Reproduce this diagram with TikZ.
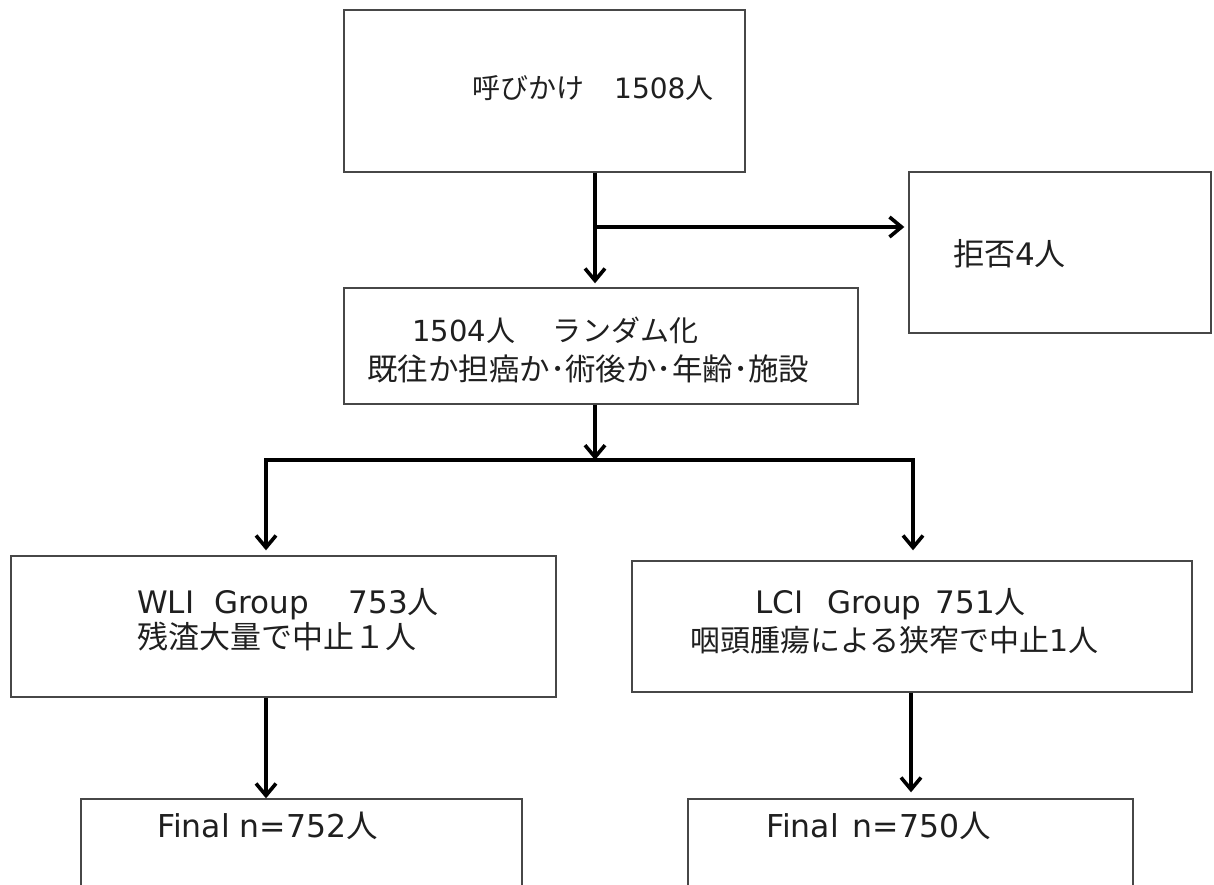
\documentclass[tikz,border=0pt]{standalone}
\usepackage{fontspec}
\setmainfont{Noto Sans CJK JP}
\newfontfamily\lat{DejaVu Sans}
\usetikzlibrary{arrows.meta}
\newcommand\fsz[1]{\fontsize{#1}{#1}\selectfont}
\begin{document}
\begin{tikzpicture}[x=1pt,y=-1pt,
  box/.style={draw=black!72, line width=1.4pt, rectangle, inner sep=0pt},
  txt/.style={anchor=base west, inner sep=0pt, text=black!88},
  link/.style={draw=black, line width=3.6pt},
  arr/.style={link, -{Straight Barb[length=12pt,width=20pt]}},
]
\useasboundingbox (0,0) rectangle (1214,884);
\clip (0,0) rectangle (1214,884);
\fill[white] (0,0) rectangle (1214,884);

% boxes
\node[box, minimum width=401pt, minimum height=162pt] (b1)  at (544.5,91) {};
\node[box, minimum width=302pt, minimum height=161pt] (ref) at (1060,252.5) {};
\node[box, minimum width=514pt, minimum height=116pt] (b2)  at (601,346) {};
\node[box, minimum width=545pt, minimum height=141pt] (wli) at (283.5,626.5) {};
\node[box, minimum width=560pt, minimum height=131pt] (lci) at (912,626.5) {};
\node[box, minimum width=441pt, minimum height=140pt] (f1)  at (301.5,869) {};
\node[box, minimum width=445pt, minimum height=140pt] (f2)  at (910.5,869) {};

% texts
\node[txt, font=\fsz{28}] (t1) at (472,98) {呼びかけ\hspace{30pt}{\lat 1508}人};
\node[txt, font=\fsz{31}] (tr) at (953,265) {拒否{\lat 4}人};
\node[txt, font=\fsz{29}] (t2a) at (412,341) {{\lat 1504}人\hspace{38pt}ランダム化};
\node[txt, font=\fsz{30.5}] (t2b) at (367,380) {既往か担癌か･術後か･年齢･施設};
\node[txt, font=\fsz{31}] (w1) at (137,613) {{\lat WLI\hspace{20pt}Group\hspace{40pt}753}人};
\node[txt, font=\fsz{31}] (w2) at (137,648) {残渣大量で中止１人};
\node[txt, font=\fsz{31}] (l1) at (755,613) {{\lat LCI\hspace{24pt}Group\hspace{14pt}751}人};
\node[txt, font=\fsz{30}] (l2) at (690,651) {咽頭腫瘍による狭窄で中止{\lat 1}人};
\node[txt, font=\fsz{31.5}] (g1) at (157,837) {{\lat Final n=752}人};
\node[txt, font=\fsz{31.5}] (g2) at (766,837) {{\lat Final\hspace{14pt}n=750}人};

% junctions
\coordinate (j1) at (595,227);
\coordinate (j2) at (595,460);
\coordinate (jl) at (266,460);
\coordinate (jr) at (913,460);

% connectors
\draw[arr, shorten >=4pt] (b1.south -| j1) -- (b2.north -| j1);
\draw[arr, shorten >=4pt] (j1) -- (ref.west |- j1);
\draw[arr] (b2.south -| j2) -- (j2);
\draw[link] ([xshift=-1.8pt]jl) -- ([xshift=1.8pt]jr);
\draw[arr, shorten >=5pt] ([yshift=-1.8pt]jl) -- (wli.north -| jl);
\draw[arr, shorten >=10pt] ([yshift=-1.8pt]jr) -- (lci.north -| jr);
\draw[arr] (wli.south -| jl) -- (f1.north -| jl);
\draw[arr, shorten >=6pt] (lci.south -| 911,0) -- (f2.north -| 911,0);
\end{tikzpicture}
\end{document}
